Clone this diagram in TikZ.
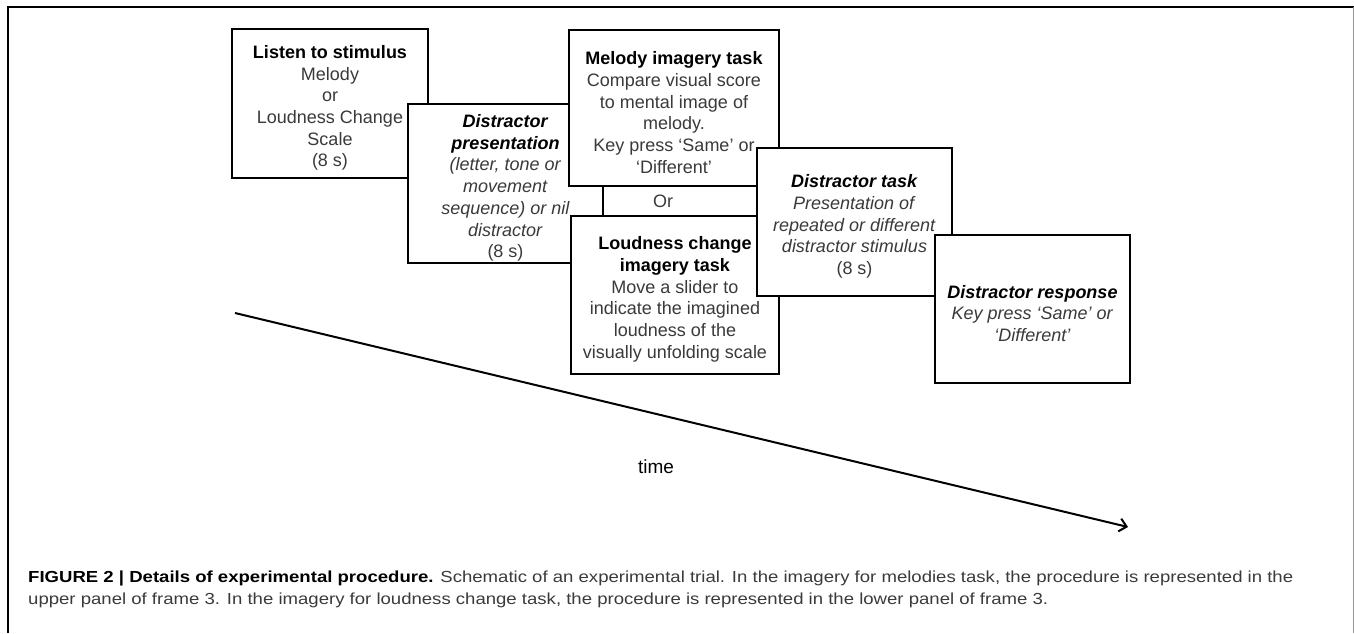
\documentclass[tikz,border=0pt]{standalone}
\usepackage{fontspec}
\setmainfont{Liberation Sans}
\newfontfamily\capfont{Liberation Sans}[FakeStretch=1.16]
\usepackage{tikz}
\usetikzlibrary{arrows.meta,positioning}
\definecolor{txtgray}{RGB}{58, 58, 58}
\definecolor{framegray}{RGB}{150, 150, 150}
\tikzstyle{stage} = [rectangle, draw=black, line width=2pt, fill=white, text=txtgray, align=center, inner sep=0pt, font=\fontsize{18}{21.7}\selectfont]
\tikzstyle{wide} = [stage, minimum width=210pt, minimum height=156pt]
\tikzstyle{narrow} = [stage, minimum width=195pt, minimum height=148pt]
\tikzstyle{tarrow} = [draw, line width=2pt, >={Straight Barb[length=7pt,width=13pt]}, ->]
\newcommand{\ts}{\rule{0pt}{22pt}}
\newcommand{\hd}[1]{\textcolor{black}{\textbf{#1}}}
\newcommand{\hdi}[1]{\textcolor{black}{\textbf{\textit{#1}}}}

\begin{document}
\begin{tikzpicture}[x=1pt, y=-1pt]
\useasboundingbox (0,0) rectangle (1354,633);

% frame ==================================
\draw[line width=1.5pt] (8,633) -- (8,7) -- (1354,7);
\draw[framegray, line width=1pt] (1353,7) -- (1353,633);

% stages =================================

% listen and distractor presentation
\node[narrow, minimum width=196pt, minimum height=149pt] (listen) at (330,103.5)
  {\ts\hd{Listen to stimulus}\\Melody\\or\\Loudness Change\\Scale\\(8 s)};
\node[narrow, minimum height=159pt] (pres) at (505.5,183.5)
  {\ts\hdi{Distractor}\\\hdi{presentation}\\\textit{(letter, tone or}\\\textit{movement}\\\textit{sequence) or nil}\\\textit{distractor}\\(8 s)};

% imagery tasks
\node[wide] (melody) at (674,108)
  {\ts\hd{Melody imagery task}\\Compare visual score\\to mental image of\\melody.\\Key press `Same' or\\`Different'};
\node[wide, minimum width=208pt, minimum height=158pt] (loud) at (675,295)
  {\ts\hd{Loudness change}\\\hd{imagery task}\\Move a slider to\\indicate the imagined\\loudness of the\\visually unfolding scale};
\node[text=txtgray, font=\fontsize{18}{21.7}\selectfont] (or) at (663,201) {Or};

% distractor task and response
\node[narrow] (dtask) at (854.5,222)
  {\ts\hdi{Distractor task}\\\textit{Presentation of}\\\textit{repeated or different}\\\textit{distractor stimulus}\\(8 s)};
\node[narrow] (dresp) at (1032.5,309)
  {\ts\hdi{Distractor response}\\\textit{Key press `Same' or}\\\textit{`Different'}};

% time axis
\coordinate (tstart) at (235,313);
\coordinate (tend) at (1128,527);
\path[tarrow] (tstart) -- (tend);
\node[text=black, font=\fontsize{19}{22}\selectfont] (time) at (656,467) {time};

% caption
\node[anchor=north west, align=left, inner sep=0pt, text=txtgray, font=\capfont\fontsize{16}{22}\selectfont] (cap) at (28,571)
  {\hd{FIGURE 2 | Details of experimental procedure.} Schematic of an experimental trial. In the imagery for melodies task, the procedure is represented in the\\
   upper panel of frame 3. In the imagery for loudness change task, the procedure is represented in the lower panel of frame 3.};

\end{tikzpicture}
\end{document}
